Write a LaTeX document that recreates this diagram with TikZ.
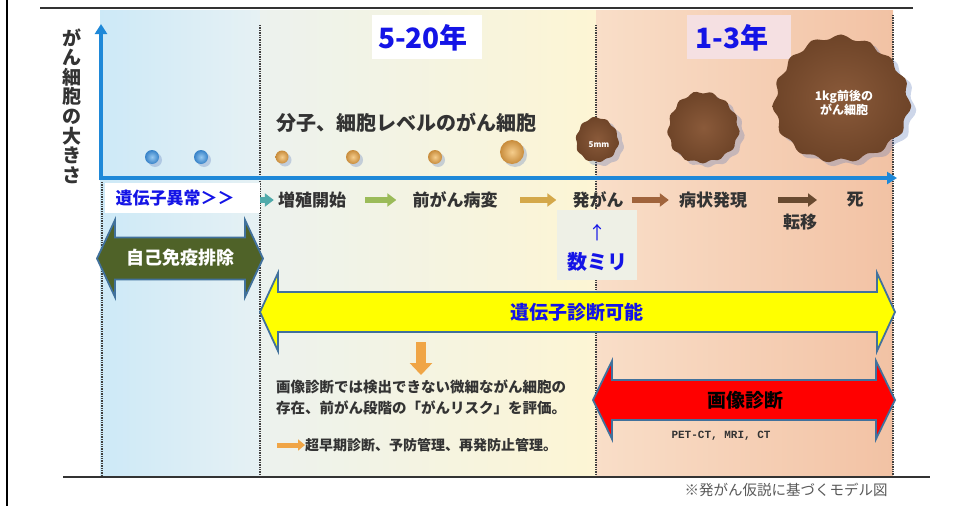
\documentclass[tikz,border=0pt]{standalone}
\usepackage{fontspec}
\setmainfont{Noto Sans CJK JP}
\newfontfamily\monofont{Liberation Mono}
\usetikzlibrary{arrows.meta}

\definecolor{axisblue}{HTML}{1E88D8}
\definecolor{labelgray}{HTML}{333333}
\definecolor{textblue}{HTML}{1414E6}
\definecolor{borderblue}{HTML}{41719C}
\definecolor{immgreen}{HTML}{4F6228}
\definecolor{geneyellow}{HTML}{FFFF00}
\definecolor{imgred}{HTML}{FF0000}
\definecolor{blobinner}{HTML}{8A5A3A}
\definecolor{blobouter}{HTML}{6E4428}
\definecolor{shadowblue}{HTML}{5A78B8}
\definecolor{bgblueL}{RGB}{205,233,247}
\definecolor{bgblueR}{RGB}{230,241,244}
\definecolor{bgmidL}{RGB}{236,242,238}
\definecolor{bgmidR}{RGB}{253,245,212}
\definecolor{bgpeachL}{RGB}{249,222,200}
\definecolor{bgpeachR}{RGB}{242,194,164}
\definecolor{pinkbox}{RGB}{245,224,226}
\definecolor{mmboxfill}{RGB}{238,240,230}
\definecolor{ballblueL}{RGB}{150,200,240}
\definecolor{ballblue}{RGB}{55,130,200}
\definecolor{ballorangeL}{RGB}{245,205,140}
\definecolor{ballorange}{RGB}{200,140,60}
\definecolor{flowteal}{RGB}{80,170,170}
\definecolor{flowgreen}{RGB}{155,187,89}
\definecolor{flowochre}{RGB}{212,168,74}
\definecolor{flowbrown}{RGB}{160,100,60}
\definecolor{flowdark}{RGB}{105,74,48}
\definecolor{notearrow}{RGB}{240,165,70}

\newcommand\fsz[2]{\fontsize{#1}{#2}\selectfont}

% double-headed block arrow: style, left tip x, right tip x, centre y,
% half body height, half head height, head length
\newcommand\dblarrow[7]{%
  \draw[#1] (#2,#4) -- ({#2+#7},{#4-#6}) -- ({#2+#7},{#4-#5})
    -- ({#3-#7},{#4-#5}) -- ({#3-#7},{#4-#6}) -- (#3,#4)
    -- ({#3-#7},{#4+#6}) -- ({#3-#7},{#4+#5}) -- ({#2+#7},{#4+#5})
    -- ({#2+#7},{#4+#6}) -- cycle;}

% wavy tumour outline: centre x, centre y, radius x, radius y, lobes
\newcommand\cellblob[5]{%
  \fill[shadowblue,opacity=0.3] plot[smooth cycle,samples=72,domain=0:355]
    ({#1+5+#3*(1+0.035*sin(#5*\x)+0.025*sin(3*\x+30))*cos(\x)},
     {#2+4+#4*(1+0.035*sin(#5*\x)+0.025*sin(3*\x+30))*sin(\x)});
  \shade[inner color=blobinner,outer color=blobouter]
    plot[smooth cycle,samples=72,domain=0:355]
    ({#1+#3*(1+0.035*sin(#5*\x)+0.025*sin(3*\x+30))*cos(\x)},
     {#2+#4*(1+0.035*sin(#5*\x)+0.025*sin(3*\x+30))*sin(\x)});}

\tikzset{
  lbl/.style={text=labelgray,font=\bfseries\fsz{17}{20},inner sep=0pt},
  desc/.style={text=labelgray,font=\bfseries\fsz{14.5}{17},inner sep=0pt,anchor=west},
  divider/.style={black!75,line width=1.3pt,dash pattern=on 1.3pt off 1.1pt},
  flow/.style={line width=5.5pt,-{Triangle[length=9pt,width=13pt]}},
  blockarrow/.style={draw=borderblue,line width=1.8pt,line join=miter},
}

\begin{document}
\begin{tikzpicture}[x=1pt,y=-1pt]
\useasboundingbox (0,0) rectangle (955,506);
\fill[white] (0,0) rectangle (955,506);

% coloured stage panels
\shade[left color=bgblueL,right color=bgblueR] (100,10) rectangle (260,475);
\shade[left color=bgmidL,right color=bgmidR] (260,10) rectangle (596,475);
\shade[left color=bgpeachL,right color=bgpeachR] (596,10) rectangle (893,475);

% frame lines
\draw[black,line width=2.2pt] (7,0) -- (7,506);
\draw[black!80,line width=2pt] (40,8) -- (913,8);
\draw[black!80,line width=1.5pt] (63,477) -- (930,477);

% stage dividers
\draw[divider] (102,182) -- (102,475);
\draw[divider] (260,25) -- (260,475);
\draw[divider] (596,25) -- (596,475);
\draw[divider] (893,15) -- (893,475);

% period labels
\node[fill=white,minimum width=110pt,minimum height=44pt,inner sep=0pt] (p1box) at (427,37) {};
\node[text=textblue,font=\bfseries\fsz{28}{30}] (p1) at (423,38) {5-20年};
\node[fill=pinkbox,minimum width=104pt,minimum height=44pt,inner sep=0pt] (p2box) at (739,37) {};
\node[text=textblue,font=\bfseries\fsz{28}{30}] (p2) at (732,38) {1-3年};

% vertical axis title
\node[text=labelgray,font=\bfseries\fsz{19}{19.6},align=center,inner sep=0pt] (ylab) at (72,106) {が\\ん\\細\\胞\\の\\大\\き\\さ};

\node[text=labelgray,font=\bfseries\fsz{20}{22},inner sep=0pt] (level) at (406,123) {分子、細胞レベルのがん細胞};

% growing cells
\foreach \cx/\r in {152/7,201/7} {
  \fill[shadowblue,opacity=0.3] (\cx+3,160) circle (\r pt);
  \shade[inner color=ballblueL,outer color=ballblue] (\cx,157) circle (\r pt);
}
\foreach \cx/\cy/\r in {282/157/6.5,353/157/7,435/157/7,512/152/12} {
  \fill[shadowblue,opacity=0.3] (\cx+3,\cy+3) circle (\r pt);
  \shade[inner color=ballorangeL,outer color=ballorange] (\cx,\cy) circle (\r pt);
}
\cellblob{597}{140}{21}{22}{10}
\cellblob{703}{128}{35}{35}{13}
\cellblob{841}{100}{67}{62}{15}
\node[text=white,font=\bfseries\fsz{8}{9},inner sep=0pt] (mm5) at (599,145) {5mm};
\node[text=white,font=\bfseries\fsz{12}{13.5},align=center,inner sep=0pt] (kg1) at (844,103) {1kg前後の\\がん細胞};

% axes
\draw[axisblue,line width=4pt,-{Triangle[length=10pt,width=12pt]}] (101,180) -- (101,24);
\draw[axisblue,line width=4pt,-{Triangle[length=10pt,width=12pt]}] (99,178) -- (897,178);

% progression labels
\node[lbl] (s1) at (312,200) {増殖開始};
\node[lbl] (s2) at (455,200) {前がん病変};
\node[lbl] (s3) at (598,200) {発がん};
\node[lbl] (s4) at (713,200) {病状発現};
\node[lbl] (s5) at (855,200) {死};
\node[lbl] (s6) at (800,222) {転移};
\coordinate (f1) at (245,200);
\coordinate (f2) at (365,200);
\coordinate (f3) at (520,200);
\coordinate (f4) at (778,200);
\coordinate (f4e) at (817,200);
\draw[flow,flowteal] (f1) -- ([xshift=-4pt]s1.west);
\draw[flow,flowgreen] (f2) -- ([xshift=-16pt]s2.west);
\draw[flow,flowochre] (f3) -- ([xshift=-16pt]s3.west);
\draw[flow,flowbrown] ([xshift=8pt]s3.east) -- ([xshift=-10pt]s4.west);
\draw[flow,flowdark] (f4) -- (f4e);

\node[fill=white,minimum width=155pt,minimum height=30pt,inner sep=0pt] (genebox) at (182,198) {};
\node[text=textblue,font=\bfseries\fsz{17}{20},inner sep=0pt] (gene) at (175,198) {遺伝子異常＞＞};

\node[fill=mmboxfill,minimum width=80pt,minimum height=70pt,inner sep=0pt] (mmbox) at (597,245) {};
\node[text=textblue,font=\fsz{18}{20},inner sep=0pt] (up) at (597,233) {↑};
\node[text=textblue,font=\bfseries\fsz{20}{22},inner sep=0pt] (mm) at (597,262) {数ミリ};

% diagnosis windows
\dblarrow{blockarrow,fill=immgreen}{97}{263}{258.5}{21}{38.5}{18}
\node[text=white,font=\bfseries\fsz{18}{20},inner sep=0pt] (imm) at (180,258) {自己免疫排除};
\dblarrow{blockarrow,fill=geneyellow}{260}{895}{312}{20}{39}{18}
\node[text=textblue,font=\bfseries\fsz{19}{21},inner sep=0pt] (gdx) at (577,312) {遺伝子診断可能};
\dblarrow{blockarrow,fill=imgred}{593}{895}{400}{20}{39}{19}
\node[text=black,font=\bfseries\fsz{19}{21},inner sep=0pt] (idx) at (745,400) {画像診断};
\node[text=labelgray,font=\monofont\bfseries\fsz{11}{12},inner sep=0pt] (modal) at (721,436) {PET-CT, MRI, CT};

% explanation of the genetic test
\coordinate (dn0) at (421,342);
\coordinate (dn1) at (421,375);
\draw[notearrow,line width=10pt,-{Triangle[length=12pt,width=22pt]}] (dn0) -- (dn1);
\node[desc] (d1) at (276,387) {画像診断では検出できない微細ながん細胞の};
\node[desc] (d2) at (276,408) {存在、前がん段階の「がんリスク」を評価。};
\node[desc,font=\bfseries\fsz{14}{16}] (d3) at (305,445) {超早期診断、予防管理、再発防止管理。};
\coordinate (na) at (277,445);
\draw[notearrow,line width=5pt,-{Triangle[length=7pt,width=11pt]}] (na) -- (d3.west);

\node[text=black!65,font=\fsz{14.5}{16},inner sep=0pt] (note) at (786,490) {※発がん仮説に基づくモデル図};
\end{tikzpicture}
\end{document}
